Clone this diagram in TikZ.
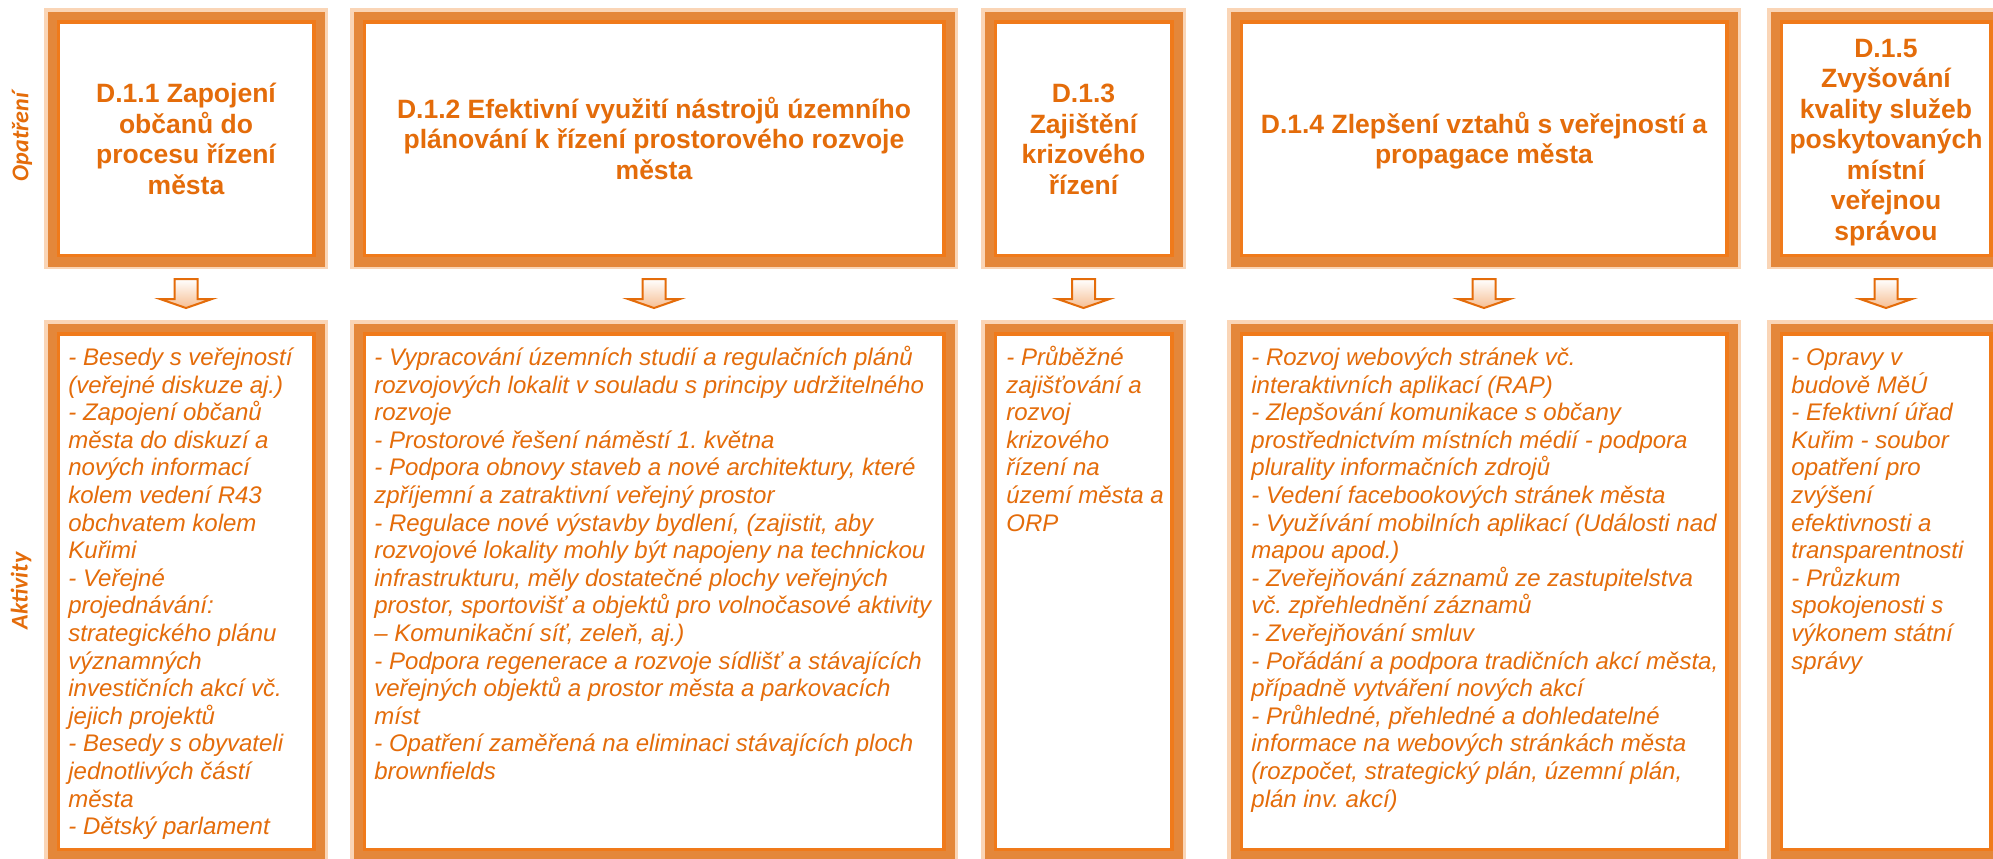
\documentclass[tikz,border=0pt]{standalone}
\usepackage{fontspec}
\setmainfont{Liberation Sans}
\newfontfamily\labelfont{Carlito}
\usetikzlibrary{calc}
\definecolor{peach}{HTML}{FAD5B6}
\definecolor{band}{HTML}{E4873A}
\definecolor{bright}{HTML}{F07A1A}
\definecolor{txt}{HTML}{E46C0A}
\definecolor{arrowfill}{HTML}{F6BE92}
\newcommand\layerbox[5]{%
  \fill[peach] (#2,#3) rectangle (#4,#5);
  \fill[band] ({#2+4},{#3+4}) rectangle ({#4-3},{#5-2});
  \fill[bright] ({#2+13},{#3+12}) rectangle ({#4-12},{#5-12});
  \fill[white] ({#2+16},{#3+16}) rectangle ({#4-16},{#5-15});
}
\newcommand\blockarrow[1]{%
  \draw[arrowshape] ($(#1)+(-11.5,0)$) -- ($(#1)+(11.5,0)$) -- ($(#1)+(11.5,20)$)
    -- ($(#1)+(26,20)$) -- ($(#1)+(0,29)$) -- ($(#1)+(-26,20)$)
    -- ($(#1)+(-11.5,20)$) -- cycle;
}
\newcommand\firstline{\rule{0pt}{13pt}}
\newcommand\lastline{\rule[-4pt]{0pt}{4pt}}
\newcommand\bodyfirst{\rule{0pt}{12pt}}
\frenchspacing
\begin{document}
\frenchspacing
\begin{tikzpicture}[x=0.5pt,y=-0.5pt,
  heading/.style={align=center, inner sep=0pt, text=txt,
    font=\fontsize{13.25pt}{15.25pt}\selectfont\bfseries\frenchspacing},
  body/.style={align=left, inner sep=0pt, anchor=north west, text=txt,
    font=\fontsize{12pt}{13.8pt}\selectfont\itshape\frenchspacing},
  lbl/.style={rotate=90, inner sep=0pt, text=txt,
    font=\labelfont\fontsize{12pt}{14pt}\selectfont\bfseries\itshape},
  arrowshape/.style={draw=txt, line width=1pt, line join=miter,
    top color=white, bottom color=arrowfill}]
\useasboundingbox (0,0) rectangle (1993,858);
\clip (0,0) rectangle (1993,858);
\fill[white] (0,0) rectangle (1993,858);

% top boxes
\layerbox{t1}{44}{8}{328}{269}
\layerbox{t2}{350}{8}{958}{269}
\layerbox{t3}{981}{8}{1186}{269}
\layerbox{t4}{1227}{8}{1741}{269}
\layerbox{t5}{1767}{8}{2005}{269}
% bottom boxes
\layerbox{b1}{44}{320}{328}{863}
\layerbox{b2}{350}{320}{958}{863}
\layerbox{b3}{981}{320}{1186}{863}
\layerbox{b4}{1227}{320}{1741}{863}
\layerbox{b5}{1767}{320}{2005}{863}

% side labels
\node[lbl] (lo) at (22,137) {Opatření};
\node[lbl] (la) at (21,591) {Aktivity};

% headings
\node[heading] (h1) at (186,139.5) {\firstline D.1.1 Zapojení\\občanů do\\procesu řízení\\města\lastline};
\node[heading] (h2) at (654,139.5) {\firstline D.1.2 Efektivní využití nástrojů územního\\plánování k řízení prostorového rozvoje\\města\lastline};
\node[heading] (h3) at (1083.5,139.5) {\firstline D.1.3\\Zajištění\\krizového\\řízení\lastline};
\node[heading] (h4) at (1484,139.5) {\firstline D.1.4 Zlepšení vztahů s veřejností a\\propagace města\lastline};
\node[heading] (h5) at (1886,139.5) {\firstline D.1.5\\Zvyšování\\kvality služeb\\poskytovaných\\místní\\veřejnou\\správou\lastline};

% arrows
\coordinate (ar1) at (186,279);
\coordinate (ar2) at (654,279);
\coordinate (ar3) at (1083.5,279);
\coordinate (ar4) at (1484,279);
\coordinate (ar5) at (1886,279);
\blockarrow{ar1}
\blockarrow{ar2}
\blockarrow{ar3}
\blockarrow{ar4}
\blockarrow{ar5}

% activity texts
\node[body] (a1) at (68,341) {\bodyfirst - Besedy s veřejností\\(veřejné diskuze aj.)\\- Zapojení občanů\\města do diskuzí a\\nových informací\\kolem vedení R43\\obchvatem kolem\\Kuřimi\\- Veřejné\\projednávání:\\strategického plánu\\významných\\investičních akcí vč.\\jejich projektů\\- Besedy s obyvateli\\jednotlivých částí\\města\\- Dětský parlament};

\node[body] (a2) at (374,341) {\bodyfirst - Vypracování územních studií a regulačních plánů\\rozvojových lokalit v souladu s principy udržitelného\\rozvoje\\- Prostorové řešení náměstí 1. května\\- Podpora obnovy staveb a nové architektury, které\\zpříjemní a zatraktivní veřejný prostor\\- Regulace nové výstavby bydlení, (zajistit, aby\\rozvojové lokality mohly být napojeny na technickou\\infrastrukturu, měly dostatečné plochy veřejných\\prostor, sportovišť a objektů pro volnočasové aktivity\\– Komunikační síť, zeleň, aj.)\\- Podpora regenerace a rozvoje sídlišť a stávajících\\veřejných objektů a prostor města a parkovacích\\míst\\- Opatření zaměřená na eliminaci stávajících ploch\\brownfields};

\node[body] (a3) at (1006,341) {\bodyfirst - Průběžné\\zajišťování a\\rozvoj\\krizového\\řízení na\\území města a\\ORP};

\node[body] (a4) at (1251,341) {\bodyfirst - Rozvoj webových stránek vč.\\interaktivních aplikací (RAP)\\- Zlepšování komunikace s občany\\prostřednictvím místních médií - podpora\\plurality informačních zdrojů\\- Vedení facebookových stránek města\\- Využívání mobilních aplikací (Události nad\\mapou apod.)\\- Zveřejňování záznamů ze zastupitelstva\\vč. zpřehlednění záznamů\\- Zveřejňování smluv\\- Pořádání a podpora tradičních akcí města,\\případně vytváření nových akcí\\- Průhledné, přehledné a dohledatelné\\informace na webových stránkách města\\(rozpočet, strategický plán, územní plán,\\plán inv. akcí)};

\node[body] (a5) at (1791,341) {\bodyfirst - Opravy v\\budově MěÚ\\- Efektivní úřad\\Kuřim - soubor\\opatření pro\\zvýšení\\efektivnosti a\\transparentnosti\\- Průzkum\\spokojenosti s\\výkonem státní\\správy};
\end{tikzpicture}
\end{document}
